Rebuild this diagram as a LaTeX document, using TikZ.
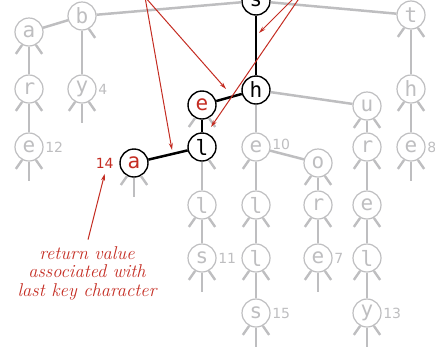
\documentclass[tikz,border=0pt]{standalone}
\usepackage{fontspec}
\newfontfamily\keyfont{DejaVu Sans Mono}
\newfontfamily\valfont{DejaVu Sans}
\usepackage{xcolor}
\usepackage{tikz}
\usetikzlibrary{arrows.meta, positioning}
\definecolor{trieGray}{RGB}{190,190,192}
\definecolor{keyRed}{RGB}{196,44,34}

\begin{document}
\begin{tikzpicture}[
    x=1pt, y=1pt,
    key/.style={circle, draw=trieGray, line width=1.2pt, minimum size=28pt, inner sep=0pt,
                text=trieGray, font=\keyfont\fontsize{21}{21}\selectfont},
    onpath/.style={key, draw=black, text=black, line width=1.4pt},
    found/.style={onpath, text=keyRed},
    val/.style={font=\valfont\fontsize{14}{14}\selectfont, text=trieGray, inner sep=1.5pt},
    link/.style={trieGray, line width=2.5pt},
    pathlink/.style={black, line width=2.5pt},
    stub/.style={trieGray, line width=2.4pt},
    query/.style={keyRed, line width=1pt, -{Stealth[length=7pt,width=4pt]}},
    note/.style={align=center, text=keyRed, font=\itshape\fontsize{18.5}{18.5}\selectfont}
  ]
  \useasboundingbox (0,0) rectangle (435,-346);
  \clip (0,0) rectangle (435,-346);

  % trie nodes
  \node[onpath] (s) at (256,-1) {s};
  \node[key] (b) at (82,-16) {b};
  \node[key] (a) at (29,-32) {a};
  \node[key] (ar) at (29,-89) {r};
  \node[key, label={[val]right:12}] (are) at (29,-147) {e};
  \node[key, label={[val]right:4}] (by) at (82,-89) {y};
  \node[key] (t) at (411,-15) {t};
  \node[key] (th) at (411,-89) {h};
  \node[key, label={[val]right:8}] (the) at (411,-147) {e};

  \node[onpath] (sh) at (256,-90) {h};
  \node[found] (se) at (202,-105) {e};
  \node[onpath] (sel) at (202,-147) {l};
  \node[found, label={[val, text=keyRed, name=v14, label distance=4pt]left:14}] (sea) at (134,-163) {a};
  \node[key] (sell) at (202,-205) {l};
  \node[key, label={[val]right:11}] (sells) at (202,-258) {s};

  \node[key, label={[val, yshift=3pt]right:10}] (she) at (256,-147) {e};
  \node[key] (shel) at (256,-205) {l};
  \node[key] (shell) at (256,-258) {l};
  \node[key, label={[val]right:15}] (shells) at (256,-313) {s};
  \node[key] (sho) at (318,-163) {o};
  \node[key] (shor) at (318,-205) {r};
  \node[key, label={[val]right:7}] (shore) at (318,-258) {e};

  \node[key] (su) at (367,-106) {u};
  \node[key] (sur) at (367,-147) {r};
  \node[key] (sure) at (367,-205) {e};
  \node[key] (surel) at (367,-258) {l};
  \node[key, label={[val]right:13}] (surely) at (367,-313) {y};

  % links
  \foreach \u/\v in {s/b, s/t, b/a, b/by, a/ar, ar/are, t/th, th/the,
                     sh/she, sh/su, sel/sell, sell/sells, she/shel, shel/shell,
                     shell/shells, she/sho, sho/shor, shor/shore, su/sur,
                     sur/sure, sure/surel, surel/surely}
    \draw[link] (\u) -- (\v);
  \foreach \u/\v in {s/sh, sh/se, se/sel, sel/sea}
    \draw[pathlink] (\u) -- (\v);

  % null links
  \foreach \n in {a, ar, are, by, t, th, the, se, sea, sell, sells, she, shel, shell,
                  shells, sho, shor, shore, su, sur, sure, surel, surely}
    \draw[stub] (\n.-118) -- ++(-125:11);
  \foreach \n in {a, ar, are, b, by, t, th, the, se, sel, sea, sell, sells, shel, shell,
                  shells, sho, shor, shore, su, sur, sure, surel, surely}
    \draw[stub] (\n.-62) -- ++(-55:11);
  \foreach \n in {are, by, the, sea, sells, shells, shore, surely}
    \draw[stub] (\n.south) -- ++(0,-19);

  % search path arrows
  \coordinate (qleft) at (145,3);
  \coordinate (qright) at (311,19);
  \coordinate (atsea) at (172,-150);
  \coordinate (atse) at (226,-89);
  \coordinate (atsh) at (259,-33);
  \coordinate (atsel) at (211,-127);
  \draw[query] (qleft) -- (atsea);
  \draw[query] (qleft) -- (atse);
  \draw[query] (qright) -- (atsh);
  \draw[query] (qright) -- (atsel);

  \node[note] (retval) at (87,-273) {return value\\associated with\\last key character};
  \draw[query] ([xshift=1pt, yshift=3pt]retval.north) -- ([yshift=-4pt]v14.south);
\end{tikzpicture}
\end{document}
